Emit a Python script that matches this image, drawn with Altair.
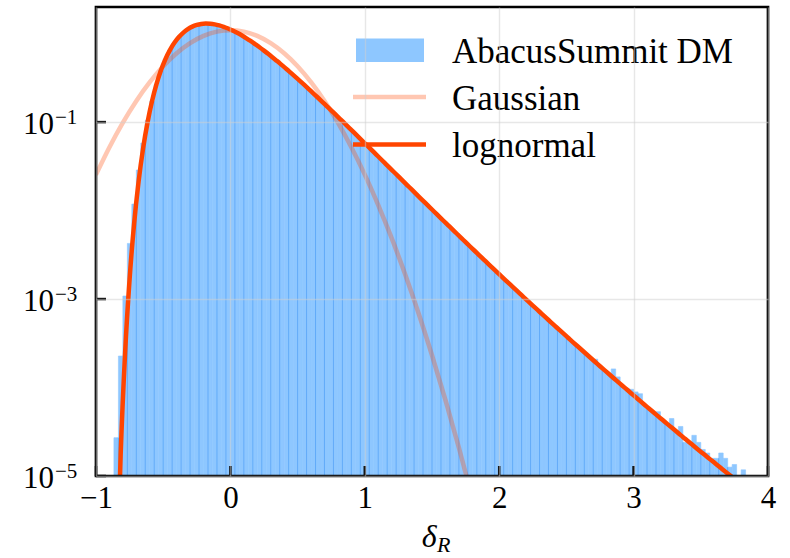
import altair as alt
import numpy as np
import pandas as pd

SERIF = "Liberation Serif"
W, H = 672, 469
HIST_BLUE = "#8ec7ff"
SEAM_BLUE = "#62abf9"
RED = "#ff4500"

# ---- data ---------------------------------------------------------------
BIN_W = 1 / 30          # histogram bins of width 1/30 on [-1, 4]
FIRST_BIN = 4           # index of the first populated bin (starts at -0.8667)

# log10 of the normalised counts, one entry per bin
hist_log10 = [
    -4.567, -3.644, -2.966, -2.371, -1.927, -1.542, -1.237, -0.980, -0.765, -0.572,
    -0.415, -0.288, -0.186, -0.104, -0.039, 0.012, 0.051, 0.079, 0.098, 0.109,
    0.114, 0.112, 0.105, 0.093, 0.077, 0.058, 0.035, 0.009, -0.019, -0.050,
    -0.083, -0.118, -0.154, -0.192, -0.231, -0.272, -0.313, -0.356, -0.399, -0.444,
    -0.489, -0.534, -0.580, -0.627, -0.675, -0.722, -0.770, -0.819, -0.867, -0.916,
    -0.965, -1.015, -1.064, -1.114, -1.164, -1.214, -1.264, -1.314, -1.364, -1.414,
    -1.464, -1.514, -1.564, -1.614, -1.664, -1.714, -1.764, -1.814, -1.864, -1.914,
    -1.963, -2.013, -2.062, -2.112, -2.161, -2.210, -2.259, -2.308, -2.357, -2.406,
    -2.454, -2.503, -2.551, -2.599, -2.647, -2.695, -2.743, -2.791, -2.838, -2.886,
    -2.933, -2.980, -3.027, -3.074, -3.120, -3.167, -3.213, -3.260, -3.306, -3.352,
    -3.397, -3.443, -3.489, -3.534, -3.579, -3.624, -3.669, -3.680, -3.758, -3.803,
    -3.847, -3.790, -3.880, -3.980, -4.010, -4.020, -4.050, -4.070, -4.197, -4.240,
    -4.283, -4.273, -4.368, -4.411, -4.350, -4.495, -4.440, -4.620, -4.630, -4.540,
    -4.620, -4.700, -4.740, -4.800, -4.800, -4.740, -4.800, -4.900, -4.870, -5.200,
    -4.930,
]

# log10 of the lognormal PDF, sampled at the same bin centres
lognormal_log10 = [
    -6.491, -4.764, -3.604, -2.773, -2.152, -1.675, -1.301, -1.004, -0.765, -0.572,
    -0.415, -0.288, -0.186, -0.104, -0.039, 0.012, 0.051, 0.079, 0.098, 0.109,
    0.114, 0.112, 0.105, 0.093, 0.077, 0.058, 0.035, 0.009, -0.019, -0.050,
    -0.083, -0.118, -0.154, -0.192, -0.231, -0.272, -0.313, -0.356, -0.399, -0.444,
    -0.489, -0.534, -0.580, -0.627, -0.675, -0.722, -0.770, -0.819, -0.867, -0.916,
    -0.965, -1.015, -1.064, -1.114, -1.164, -1.214, -1.264, -1.314, -1.364, -1.414,
    -1.464, -1.514, -1.564, -1.614, -1.664, -1.714, -1.764, -1.814, -1.864, -1.914,
    -1.963, -2.013, -2.062, -2.112, -2.161, -2.210, -2.259, -2.308, -2.357, -2.406,
    -2.454, -2.503, -2.551, -2.599, -2.647, -2.695, -2.743, -2.791, -2.838, -2.886,
    -2.933, -2.980, -3.027, -3.074, -3.120, -3.167, -3.213, -3.260, -3.306, -3.352,
    -3.397, -3.443, -3.489, -3.534, -3.579, -3.624, -3.669, -3.714, -3.759, -3.803,
    -3.847, -3.892, -3.936, -3.980, -4.023, -4.067, -4.110, -4.154, -4.197, -4.240,
    -4.283, -4.326, -4.368, -4.411, -4.453, -4.495, -4.538, -4.579, -4.621, -4.663,
    -4.705, -4.746, -4.787, -4.828, -4.869, -4.910, -4.951, -4.992, -5.032, -5.073,
    -5.113,
]

# Gaussian PDF with the same variance
gauss_x = [-1.0, -0.9, -0.8, -0.7, -0.6, -0.5, -0.4, -0.3, -0.2, -0.1, 0.0,
           0.1, 0.2, 0.3, 0.4, 0.5, 0.6, 0.7, 0.8, 0.9, 1.0,
           1.1, 1.2, 1.3, 1.4, 1.5, 1.6, 1.7, 1.8]
gauss_log10 = [-1.594, -1.284, -1.006, -0.761, -0.549, -0.369, -0.222, -0.108, -0.026, 0.023, 0.039,
               0.023, -0.026, -0.108, -0.222, -0.369, -0.549, -0.761, -1.006, -1.284, -1.594,
               -1.937, -2.312, -2.720, -3.161, -3.635, -4.141, -4.680, -5.251]

x_ticks = [-1, 0, 1, 2, 3, 4]
y_ticks = [1e-1, 1e-3, 1e-5]
y_tick_exponents = ["\u22121", "\u22123", "\u22125"]
legend_labels = ["AbacusSummit DM", "Gaussian", "lognormal"]

Y_FLOOR = 1e-5

# ---- tables ---------------------------------------------------------------
n_bins = len(hist_log10)
lo = -1 + (FIRST_BIN + np.arange(n_bins)) * BIN_W
h = 10.0 ** np.array(hist_log10)
hist = pd.DataFrame({"x": lo, "x2": lo + BIN_W, "y": h, "y2": Y_FLOOR})

centres = lo + BIN_W / 2
logn = pd.DataFrame({"x": centres, "y": 10.0 ** np.array(lognormal_log10)})
gauss = pd.DataFrame({"x": gauss_x, "y": 10.0 ** np.array(gauss_log10)})

# darker seams on every second bin edge, up to the lower neighbouring bar
seam_i = np.arange(1, n_bins, 2)
seams = pd.DataFrame({"x": lo[seam_i], "y": np.minimum(h[seam_i - 1], h[seam_i]), "y2": Y_FLOOR})

xt = pd.DataFrame({"x": x_ticks})
yt = pd.DataFrame({"y": y_ticks, "exp": y_tick_exponents})
one = pd.DataFrame({"k": [0]})

# ---- scales / axes --------------------------------------------------------
X_SCALE = alt.Scale(domain=[-1, 4], nice=False, zero=False)
Y_SCALE = alt.Scale(type="log", domain=[Y_FLOOR, 2], nice=False)
X_AXIS = alt.Axis(values=x_ticks, grid=True, gridColor="#cfcfcf", gridOpacity=0.5, gridWidth=1.4,
                  domain=False, ticks=False, tickSize=0, labelFont=SERIF, labelFontSize=31,
                  labelColor="black", labelPadding=31, labelBaseline="alphabetic",
                  labelFlush=False, labelOverlap=False, title="", zindex=1)
Y_AXIS = alt.Axis(values=y_ticks, grid=True, gridColor="#cfcfcf", gridOpacity=0.5, gridWidth=1.4,
                  domain=False, ticks=False, tickSize=0, labels=False, title="", zindex=1)


def X(field="x"):
    return alt.X(f"{field}:Q", scale=X_SCALE, axis=X_AXIS)


def Y(field="y"):
    return alt.Y(f"{field}:Q", scale=Y_SCALE, axis=Y_AXIS)


bars = alt.Chart(hist).mark_rect(color=HIST_BLUE, stroke=HIST_BLUE, strokeWidth=0.6, clip=True).encode(
    x=X(), x2="x2:Q", y=Y(), y2="y2:Q")

seam = alt.Chart(seams).mark_rule(color=SEAM_BLUE, strokeWidth=1, clip=True).encode(
    x=X(), y=Y(), y2="y2:Q")

gauss_line = alt.Chart(gauss).mark_line(color=RED, opacity=0.3, strokeWidth=4.5,
                                        interpolate="monotone", clip=True).encode(x=X(), y=Y())

logn_line = alt.Chart(logn).mark_line(color=RED, strokeWidth=4.5,
                                      interpolate="monotone", clip=True).encode(x=X(), y=Y())

# inward ticks
x_tick_marks = alt.Chart(xt).mark_rule(color="black", strokeWidth=2.5).encode(
    x=X(), y=alt.value(H), y2=alt.value(H - 10))
y_tick_marks = alt.Chart(yt).mark_rule(color="black", strokeWidth=2.5).encode(
    y=Y(), x=alt.value(0), x2=alt.value(10))

frame = alt.Chart(one).mark_rect(filled=False, stroke="black", strokeWidth=2.7).encode(
    x=alt.value(0), x2=alt.value(W), y=alt.value(0), y2=alt.value(H))

# y tick labels as 10 with a raised exponent
y_base = alt.Chart(yt).mark_text(text="10", align="right", baseline="alphabetic", font=SERIF,
                                 fontSize=31, dy=12, color="black").encode(y=Y(), x=alt.value(-42))
y_exp = alt.Chart(yt).mark_text(align="left", baseline="alphabetic", font=SERIF, fontSize=21,
                                dy=2, color="black").encode(y=Y(), x=alt.value(-41), text="exp:N")

# x axis title: delta with subscript R
x_title_d = alt.Chart(one).mark_text(text="\u03b4", align="right", baseline="alphabetic", font=SERIF,
                                     fontSize=32, fontStyle="italic", color="black").encode(
    x=alt.value(340.5), y=alt.value(540))
x_title_r = alt.Chart(one).mark_text(text="R", align="left", baseline="alphabetic", font=SERIF,
                                     fontSize=22, fontStyle="italic", color="black").encode(
    x=alt.value(341), y=alt.value(545))

# legend
leg_patch = alt.Chart(one).mark_rect(color=HIST_BLUE).encode(
    x=alt.value(260), x2=alt.value(328), y=alt.value(31.5), y2=alt.value(55))
leg_gauss = alt.Chart(one).mark_rule(color=RED, opacity=0.3, strokeWidth=4.5).encode(
    x=alt.value(257), x2=alt.value(330), y=alt.value(90))
leg_logn = alt.Chart(one).mark_rule(color=RED, strokeWidth=4.5).encode(
    x=alt.value(257), x2=alt.value(330), y=alt.value(137.5))
leg_text = [
    alt.Chart(one).mark_text(text=label, align="left", baseline="alphabetic", font=SERIF,
                             fontSize=35, color="black").encode(x=alt.value(356), y=alt.value(yy))
    for label, yy in zip(legend_labels, [56, 102.5, 149.5])
]

chart = alt.layer(
    bars, seam, gauss_line, logn_line, x_tick_marks, y_tick_marks, frame,
    y_base, y_exp, x_title_d, x_title_r, leg_patch, leg_gauss, leg_logn, *leg_text,
).properties(
    width=W, height=H,
    padding={"left": 96, "top": 7, "right": 22, "bottom": 82},
    autosize=alt.AutoSizeParams(type="none"),
    background="white",
).configure_view(strokeWidth=0)

chart.save("out.html", embed_options={"renderer": "svg", "actions": False})
